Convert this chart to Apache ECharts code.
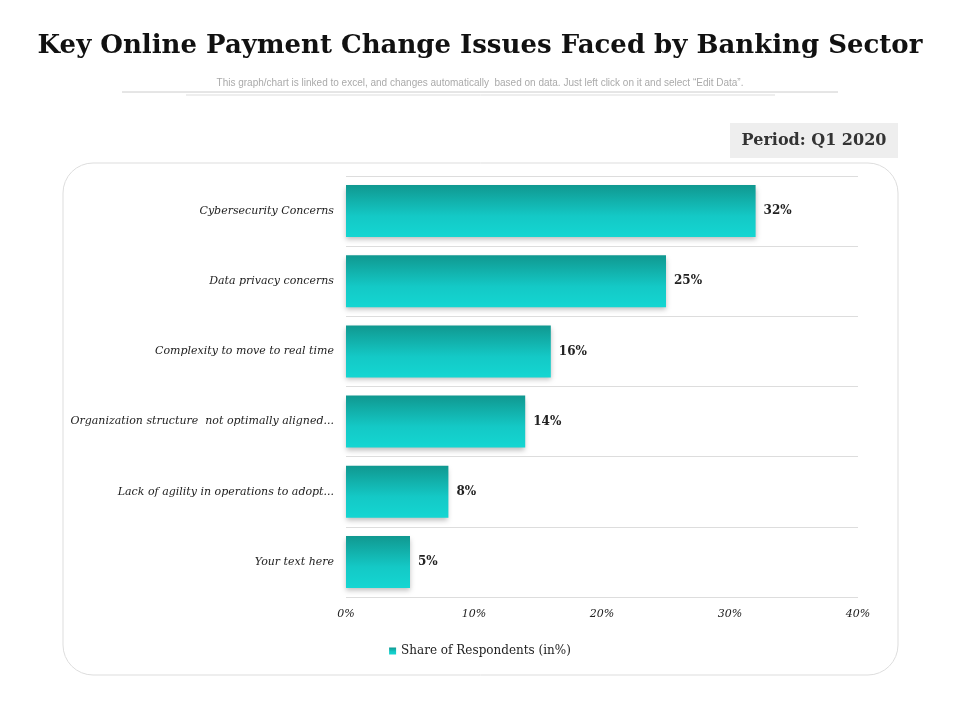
<!DOCTYPE html>
<html>
<head>
<meta charset="utf-8">
<script src="https://cdn.jsdelivr.net/npm/echarts@6/dist/echarts.min.js"></script>
<style>html,body{margin:0;padding:0;background:#fff}#chart{width:960px;height:720px}</style>
</head>
<body>
<div id="chart"></div>
<script>
// categories top to bottom
const categories = ['Cybersecurity Concerns', 'Data privacy concerns', 'Complexity to move to real time',
  'Organization structure  not optimally aligned...', 'Lack of agility in operations to adopt...', 'Your text here'];
const shares = [32, 25, 16, 14, 8, 5];
const seriesName = 'Share of Respondents (in%)';

const chart = echarts.init(document.getElementById('chart'));
const serif = '"DejaVu Serif", "Liberation Serif", serif';
chart.setOption({
  animation: false,
  title: [{
    text: 'Key Online Payment Change Issues Faced by Banking Sector',
    left: 'center', top: 28,
    textStyle: {fontFamily: serif, fontSize: 26, fontWeight: 'bold', color: '#111'}
  }, {
    text: 'This graph/chart is linked to excel, and changes automatically  based on data. Just left click on it and select \u201cEdit Data\u201d.',
    left: 'center', top: 73,
    textStyle: {fontFamily: '"Liberation Sans Narrow", "Liberation Sans", sans-serif', fontSize: 10, fontWeight: 'normal', color: '#aaa'}
  }],
  graphic: [
    {type: 'line', shape: {x1: 122, y1: 92, x2: 838, y2: 92}, style: {stroke: '#ccc', lineWidth: 1}},
    {type: 'line', shape: {x1: 186, y1: 95, x2: 775, y2: 95}, style: {stroke: '#ddd', lineWidth: 1}},
    {type: 'rect', shape: {x: 63, y: 163, width: 835, height: 512, r: 30}, style: {fill: 'none', stroke: '#ddd', lineWidth: 1}, z: -1},
    {type: 'rect', shape: {x: 730, y: 123, width: 168, height: 35}, style: {fill: '#eeeeee'}},
    {type: 'text', x: 814, y: 141, style: {text: 'Period: Q1 2020', font: 'bold 16px ' + serif, fill: '#333', align: 'center', verticalAlign: 'middle'}}
  ],
  legend: {
    bottom: 58, left: 'center', icon: 'rect', itemWidth: 7, itemHeight: 7,
    textStyle: {fontFamily: serif, fontSize: 12, color: '#222'}
  },
  grid: {left: 346, right: 102, top: 176, bottom: 123},
  xAxis: {
    type: 'value', min: 0, max: 40, interval: 10,
    axisLabel: {formatter: '{value}%', fontFamily: serif, fontStyle: 'italic', fontSize: 11, color: '#222', margin: 12},
    splitLine: {show: false}, axisLine: {show: false}, axisTick: {show: false}
  },
  yAxis: {
    type: 'category', data: categories, inverse: true,
    axisLabel: {fontFamily: serif, fontStyle: 'italic', fontSize: 11, color: '#222', margin: 12},
    axisLine: {show: false}, axisTick: {show: false},
    splitLine: {show: true, lineStyle: {color: '#ddd'}}
  },
  series: [{
    name: seriesName, type: 'bar', data: shares, barCategoryGap: '26%',
    itemStyle: {
      color: new echarts.graphic.LinearGradient(0, 0, 0, 1, [
        {offset: 0, color: '#109890'}, {offset: 0.6, color: '#14c9c6'}, {offset: 1, color: '#14d6d2'}]),
      shadowColor: 'rgba(0,0,0,0.25)', shadowBlur: 5, shadowOffsetY: 3
    },
    label: {show: true, position: 'right', distance: 8, formatter: '{c}%', fontFamily: serif, fontWeight: 'bold', fontSize: 12, color: '#222'}
  }]
});
</script>
</body>
</html>
